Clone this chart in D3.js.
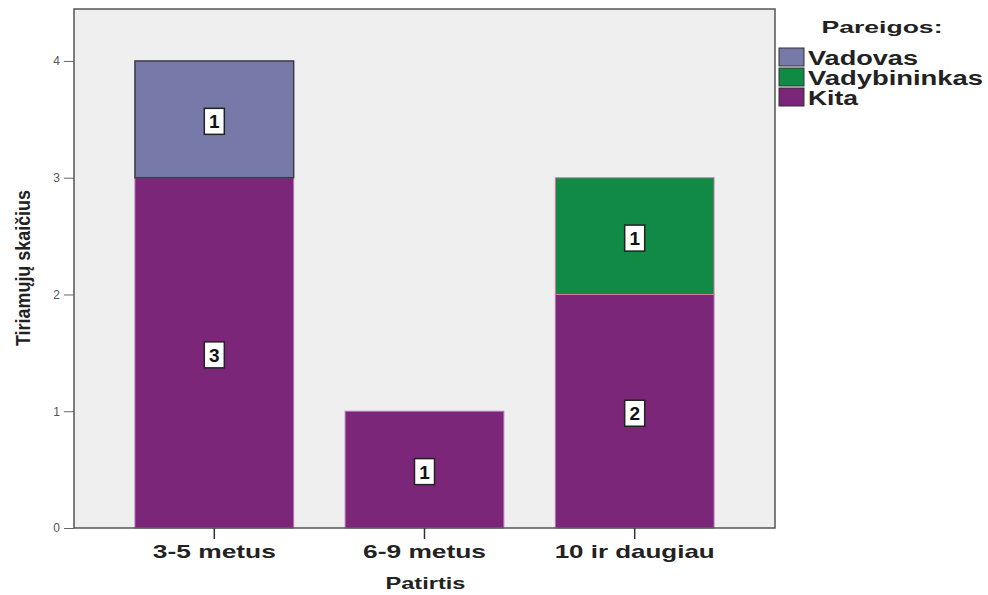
<!DOCTYPE html>
<html>
<head>
<meta charset="utf-8">
<script src="https://cdn.jsdelivr.net/npm/d3@7"></script>
<style>
  body { margin: 0; background: #fff; }
  text { font-family: "Liberation Sans", Arial, sans-serif; }
</style>
</head>
<body>
<svg id="chart" width="988" height="595"></svg>
<script>
// duomenys
var categories = ["3-5 metus", "6-9 metus", "10 ir daugiau"];
var kita = [3, 1, 2];
var vadybininkas = [0, 0, 1];
var vadovas = [1, 0, 0];
var yTicks = [0, 1, 2, 3, 4];
var legendKeys = ["Vadovas", "Vadybininkas", "Kita"];

var colors = { Vadovas: "#7779a8", Vadybininkas: "#108a44", Kita: "#7b2679" };
var strokes = { Vadovas: "#3a3a48", Vadybininkas: "#d87a98", Kita: "#b478b4" };

var rows = categories.map(function(c, i) {
    return { cat: c, Kita: kita[i], Vadybininkas: vadybininkas[i], Vadovas: vadovas[i] };
});

var svg = d3.select("#chart");
var plotL = 74, plotR = 775, plotT = 9, plotB = 528;

var x = d3.scaleBand()
    .domain(categories)
    .range([plotL, plotR])
    .paddingInner(0.245)
    .paddingOuter(0.29);

var y = d3.scaleLinear()
    .domain([0, 4.445])
    .range([plotB, plotT]);

// fonas
svg.append("rect")
    .attr("x", plotL).attr("y", plotT)
    .attr("width", plotR - plotL).attr("height", plotB - plotT)
    .attr("fill", "#efefef");

var stack = d3.stack().keys(["Kita", "Vadybininkas", "Vadovas"]);
var series = stack(rows);

var g = svg.append("g");
series.forEach(function(s) {
    g.selectAll("rect." + s.key)
        .data(s.filter(function(d) { return d[1] > d[0]; }))
        .enter().append("rect")
        .attr("class", s.key)
        .attr("x", function(d) { return x(d.data.cat); })
        .attr("width", x.bandwidth())
        .attr("y", function(d) { return y(d[1]); })
        .attr("height", function(d) { return y(d[0]) - y(d[1]); })
        .attr("fill", colors[s.key])
        .attr("stroke", strokes[s.key])
        .attr("stroke-width", s.key == "Vadovas" ? 1.5 : 1);
});

// reikšmių etiketės
series.forEach(function(s) {
    var lab = g.selectAll("g.lab-" + s.key)
        .data(s.filter(function(d) { return d[1] > d[0]; }))
        .enter().append("g")
        .attr("class", "lab-" + s.key)
        .attr("transform", function(d) {
            return "translate(" + (x(d.data.cat) + x.bandwidth() / 2) + "," + (y((d[0] + d[1]) / 2) + 2) + ")";
        });
    lab.append("rect")
        .attr("x", -10).attr("y", -13)
        .attr("width", 20).attr("height", 26)
        .attr("fill", "#fff")
        .attr("stroke", "#222")
        .attr("stroke-width", 1.5);
    lab.append("text")
        .attr("text-anchor", "middle")
        .attr("y", 7)
        .attr("font-size", 19)
        .attr("font-weight", "bold")
        .attr("fill", "#111")
        .text(function(d) { return d[1] - d[0]; });
});

// rėmelis
svg.append("rect")
    .attr("x", plotL).attr("y", plotT)
    .attr("width", plotR - plotL).attr("height", plotB - plotT)
    .attr("fill", "none")
    .attr("stroke", "#555")
    .attr("stroke-width", 1.5);

// y ašis
var yAxis = svg.append("g")
    .attr("transform", "translate(" + plotL + ",0)")
    .call(d3.axisLeft(y).tickValues(yTicks).tickSize(10).tickPadding(4).tickFormat(d3.format("d")));
yAxis.select(".domain").remove();
yAxis.selectAll(".tick line").attr("stroke", "#666");
yAxis.selectAll(".tick text")
    .attr("font-size", 12)
    .attr("fill", "#555")
    .attr("font-family", "Liberation Sans, Arial, sans-serif");

// x ašis
var xAxis = svg.append("g")
    .attr("transform", "translate(0," + plotB + ")")
    .call(d3.axisBottom(x).tickSize(11).tickPadding(6));
xAxis.select(".domain").remove();
xAxis.selectAll(".tick line").attr("stroke", "#333").attr("stroke-width", 1.5);
xAxis.selectAll(".tick text")
    .attr("font-size", 19)
    .attr("font-weight", "bold")
    .attr("fill", "#222")
    .attr("font-family", "Liberation Sans, Arial, sans-serif")
    .attr("textLength", function(d) { return d == "10 ir daugiau" ? 160 : 123; })
    .attr("lengthAdjust", "spacingAndGlyphs");

// ašių pavadinimai
svg.append("text")
    .attr("x", (plotL + plotR) / 2 + 1)
    .attr("y", 589)
    .attr("text-anchor", "middle")
    .attr("font-size", 17)
    .attr("font-weight", "bold")
    .attr("fill", "#222")
    .attr("textLength", 80)
    .attr("lengthAdjust", "spacingAndGlyphs")
    .text("Patirtis");

svg.append("text")
    .attr("transform", "translate(30,268)rotate(-90)")
    .attr("text-anchor", "middle")
    .attr("font-size", 20)
    .attr("font-weight", "bold")
    .attr("fill", "#222")
    .style("font-family", "'Liberation Sans Narrow', 'Arial Narrow', sans-serif")
    .attr("textLength", 156)
    .attr("lengthAdjust", "spacingAndGlyphs")
    .text("Tiriamųjų skaičius");

// legenda
svg.append("text")
    .attr("x", 882).attr("y", 33)
    .attr("text-anchor", "middle")
    .attr("font-size", 17)
    .attr("font-weight", "bold")
    .attr("fill", "#222")
    .attr("textLength", 121)
    .attr("lengthAdjust", "spacingAndGlyphs")
    .text("Pareigos:");

var legendW = { Vadovas: 110, Vadybininkas: 175, Kita: 50 };
var leg = svg.selectAll("g.leg")
    .data(legendKeys)
    .enter().append("g")
    .attr("class", "leg")
    .attr("transform", function(d, i) { return "translate(779," + (48 + i * 20) + ")"; });
leg.append("rect")
    .attr("width", 25).attr("height", 18)
    .attr("fill", function(d) { return colors[d]; })
    .attr("stroke", "#333")
    .attr("stroke-width", 1);
leg.append("text")
    .attr("x", 29).attr("y", 17)
    .attr("font-size", 20)
    .attr("font-weight", "bold")
    .attr("fill", "#222")
    .attr("textLength", function(d) { return legendW[d]; })
    .attr("lengthAdjust", "spacingAndGlyphs")
    .text(function(d) { return d; });
</script>
</body>
</html>
